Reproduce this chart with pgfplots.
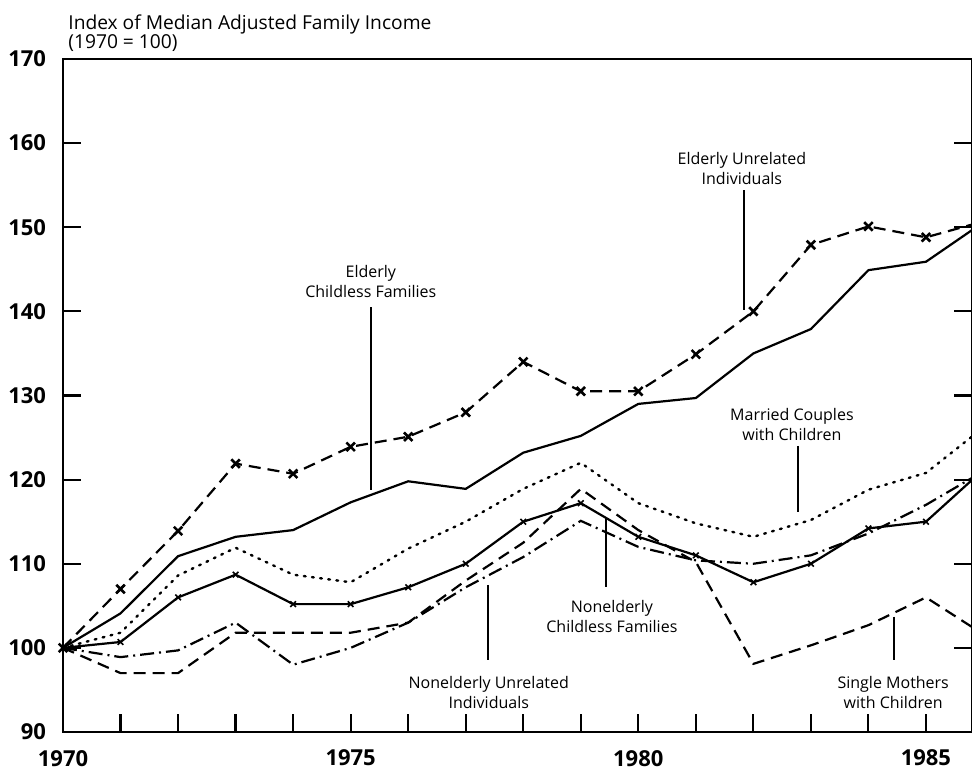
\documentclass[border=0pt]{standalone}
\usepackage{fontspec}
\setmainfont{Open Sans}
\usepackage{pgfplots}
\pgfplotsset{compat=1.18}
\tikzset{lbl/.style={font=\fontsize{8}{10}\selectfont, align=center}}

% one series per table: year, index
\pgfplotstableread{
year val
1970 100
1971 107.0
1972 113.9
1973 121.9
1974 120.7
1975 123.9
1976 125.1
1977 128.0
1978 134.0
1979 130.5
1980 130.5
1981 134.9
1982 140.0
1983 147.9
1984 150.1
1985 148.8
1986 150.7
}\elderlyunrel
\pgfplotstableread{
year val
1970 100
1971 104.1
1972 110.9
1973 113.2
1974 114.0
1975 117.3
1976 119.8
1977 118.9
1978 123.2
1979 125.2
1980 129.0
1981 129.7
1982 135.0
1983 137.9
1984 144.9
1985 145.9
1986 150.6
}\elderlychildless
\pgfplotstableread{
year val
1970 100
1971 101.8
1972 108.6
1973 111.9
1974 108.7
1975 107.8
1976 111.8
1977 115.0
1978 118.9
1979 122.0
1980 117.2
1981 114.8
1982 113.2
1983 115.2
1984 118.8
1985 120.8
1986 126.2
}\married
\pgfplotstableread{
year val
1970 100
1971 100.7
1972 106.0
1973 108.7
1974 105.2
1975 105.2
1976 107.2
1977 110.0
1978 115.0
1979 117.2
1980 113.2
1981 111.0
1982 107.8
1983 110.0
1984 114.2
1985 115.0
1986 121.2
}\nonelderlychildless
\pgfplotstableread{
year val
1970 100
1971 98.9
1972 99.7
1973 103.0
1974 98.0
1975 100.0
1976 103.0
1977 107.2
1978 110.8
1979 115.1
1980 112.0
1981 110.4
1982 110.0
1983 111.0
1984 113.6
1985 117.0
1986 121.0
}\nonelderlyunrel
\pgfplotstableread{
year val
1970 100
1971 97.0
1972 97.0
1973 101.8
1974 101.8
1975 101.8
1976 103.0
1977 108.0
1978 112.5
1979 118.9
1980 114.0
1981 110.2
1982 98.1
1983 100.3
1984 102.7
1985 106.0
1986 101.6
}\singlemothers

\begin{document}
\begin{tikzpicture}
\begin{axis}[
  at={(31.5pt,21pt)}, anchor=south west,
  scale only axis, width=454.5pt, height=336.5pt,
  xmin=1970, xmax=1985.8, ymin=90, ymax=170,
  xtick={1970,...,1985},
  xticklabels={1970,,,,,1975,,,,,1980,,,,,1985},
  ytick={90,100,...,170},
  xtick pos=bottom, ytick pos=both,
  tick align=inside,
  major tick length=9pt,
  axis line style={line width=1.2pt},
  tick style={line width=1.1pt, black},
  ticklabel style={font=\fontsize{11}{13}\selectfont\bfseries},
  /pgf/number format/assume math mode=true,
  /pgf/number format/1000 sep={},
  xticklabel style={yshift=-5.5pt},
  yticklabel style={xshift=-5pt},
  every axis plot/.append style={line width=1.1pt, black},
]
\addplot[dash pattern=on 6pt off 3.5pt, mark=x, mark size=3pt,
  mark options={solid, line width=1.3pt}] table[x=year,y=val] {\elderlyunrel};
\addplot[solid] table[x=year,y=val] {\elderlychildless};
\addplot[dash pattern=on 0.9pt off 3.2pt, line cap=round, line width=1.2pt] table[x=year,y=val] {\married};
\addplot[solid, mark=x, mark size=2pt, mark options={line width=0.8pt}] table[x=year,y=val] {\nonelderlychildless};
\addplot[dash pattern=on 7pt off 2.5pt on 1pt off 2.5pt] table[x=year,y=val] {\nonelderlyunrel};
\addplot[dash pattern=on 6pt off 3.5pt] table[x=year,y=val] {\singlemothers};

\node[lbl] at (axis cs:1975.35,143.5) {Elderly\\Childless Families};
\draw[line width=1pt] (axis cs:1975.35,140.5) -- (axis cs:1975.35,118.8);
\node[lbl] at (axis cs:1981.8,157.0) {Elderly Unrelated\\Individuals};
\draw[line width=1pt] (axis cs:1981.84,154.4) -- (axis cs:1981.84,140.2);
\node[lbl] at (axis cs:1982.67,126.6) {Married Couples\\with Children};
\draw[line width=1pt] (axis cs:1982.78,124.0) -- (axis cs:1982.78,116.2);
\node[lbl] at (axis cs:1979.54,103.7) {Nonelderly\\Childless Families};
\draw[line width=1pt] (axis cs:1979.44,115.4) -- (axis cs:1979.44,107.2);
\node[lbl] at (axis cs:1977.4,94.75) {Nonelderly Unrelated\\Individuals};
\draw[line width=1pt] (axis cs:1977.39,107.5) -- (axis cs:1977.39,98.6);
\node[lbl] at (axis cs:1984.43,94.75) {Single Mothers\\with Children};
\draw[line width=1pt] (axis cs:1984.44,103.7) -- (axis cs:1984.44,98.6);
\end{axis}
\node[anchor=north west, inner sep=0pt, align=left,
  font=\fontsize{9.6}{9.5}\selectfont] at (34pt,380pt)
  {Index of Median Adjusted Family Income\\(1970 = 100)};
\pgfresetboundingbox
\path (0,0) rectangle (486pt,387pt);
\end{tikzpicture}
\end{document}
